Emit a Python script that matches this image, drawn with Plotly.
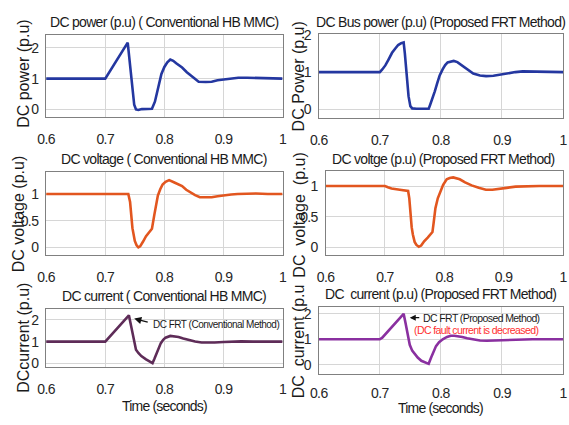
import plotly.graph_objects as go
from plotly.subplots import make_subplots

# ---- time grid labels -------------------------------------------------------
x_ticks = [0.6, 0.7, 0.8, 0.9, 1.0]
x_tick_labels = ["0.6", "0.7", "0.8", "0.9", "1"]

# ---- DC power, conventional HB MMC -----------------------------------------
t_pow_conv = [0.60, 0.70, 0.738, 0.741, 0.745, 0.749, 0.752, 0.756, 0.762, 0.770,
              0.779, 0.784, 0.790, 0.795, 0.800, 0.805, 0.810, 0.815, 0.820, 0.825,
              0.830, 0.838, 0.847, 0.858, 0.870, 0.880, 0.890, 0.900, 0.912, 0.925,
              0.940, 0.955, 0.970, 1.00]
p_pow_conv = [1.0, 1.0, 2.17, 1.6, 0.7, 0.15, 0.0, -0.02, 0.01, 0.02,
              0.02, 0.25, 0.8, 1.15, 1.38, 1.53, 1.62, 1.58, 1.5, 1.44,
              1.36, 1.21, 1.07, 0.9, 0.89, 0.9, 0.95, 0.97, 1.0, 1.03,
              1.03, 1.02, 1.01, 1.0]

# ---- DC bus power, proposed FRT method --------------------------------------
t_pow_prop = [0.60, 0.700, 0.704, 0.709, 0.714, 0.720, 0.725, 0.730, 0.735, 0.739,
              0.741, 0.744, 0.747, 0.750, 0.753, 0.760, 0.770, 0.780, 0.782, 0.786,
              0.790, 0.794, 0.798, 0.803, 0.807, 0.811, 0.816, 0.821, 0.827, 0.835,
              0.844, 0.853, 0.864, 0.874, 0.886, 0.896, 0.909, 0.922, 0.934, 0.950,
              0.970, 1.00]
p_pow_prop = [1.0, 1.0, 1.07, 1.18, 1.33, 1.52, 1.63, 1.73, 1.78, 1.80,
              1.5, 0.9, 0.35, 0.08, 0.02, 0.01, 0.01, 0.01, 0.1, 0.28,
              0.48, 0.7, 0.91, 1.08, 1.19, 1.26, 1.29, 1.30, 1.27, 1.17,
              1.05, 0.96, 0.91, 0.89, 0.90, 0.93, 0.97, 1.0, 1.02, 1.02,
              1.01, 1.0]

# ---- DC voltage, conventional HB MMC ---------------------------------------
t_vol_conv = [0.60, 0.739, 0.742, 0.746, 0.750, 0.753, 0.756, 0.759, 0.764, 0.769,
              0.774, 0.779, 0.783, 0.786, 0.789, 0.793, 0.797, 0.802, 0.808, 0.816,
              0.823, 0.830, 0.837, 0.844, 0.852, 0.860, 0.870, 0.880, 0.890, 0.902,
              0.913, 0.924, 0.940, 0.955, 0.975, 1.00]
v_vol_conv = [1.0, 1.0, 0.85, 0.36, 0.12, 0.04, 0.0, 0.02, 0.11, 0.21,
              0.28, 0.35, 0.61, 0.82, 0.97, 1.09, 1.18, 1.23, 1.26, 1.22,
              1.18, 1.15, 1.08, 1.03, 0.98, 0.94, 0.94, 0.94, 0.96, 0.98,
              0.99, 1.0, 1.01, 1.01, 1.0, 1.0]

# ---- DC voltage, proposed FRT method ---------------------------------------
t_vol_prop = [0.60, 0.700, 0.705, 0.711, 0.725, 0.739, 0.741, 0.743, 0.745, 0.747,
              0.750, 0.753, 0.757, 0.761, 0.766, 0.772, 0.777, 0.780, 0.782, 0.785,
              0.789, 0.793, 0.798, 0.804, 0.809, 0.815, 0.820, 0.826, 0.835, 0.846,
              0.858, 0.870, 0.881, 0.892, 0.905, 0.920, 0.940, 0.960, 1.00]
v_vol_prop = [1.0, 1.0, 0.98, 0.96, 0.94, 0.92, 0.8, 0.53, 0.33, 0.21,
              0.09, 0.04, 0.01, 0.03, 0.1, 0.16, 0.21, 0.25, 0.4, 0.64,
              0.8, 0.91, 1.02, 1.11, 1.13, 1.14, 1.13, 1.11, 1.06, 1.01,
              0.97, 0.94, 0.94, 0.95, 0.97, 0.99, 1.0, 1.0, 1.0]

# ---- DC current, conventional HB MMC ---------------------------------------
t_cur_conv = [0.60, 0.700, 0.740, 0.744, 0.747, 0.752, 0.756, 0.761, 0.769, 0.775,
              0.780, 0.783, 0.786, 0.790, 0.794, 0.798, 0.802, 0.810, 0.817, 0.824,
              0.832, 0.841, 0.852, 0.863, 0.875, 0.885, 0.900, 0.913, 0.930, 0.950,
              1.00]
i_cur_conv = [1.0, 1.0, 2.2, 1.65, 1.15, 0.63, 0.48, 0.34, 0.19, 0.1,
              0.02, 0.2, 0.41, 0.68, 0.93, 1.08, 1.18, 1.26, 1.24, 1.21,
              1.14, 1.07, 1.0, 0.96, 0.95, 0.96, 0.98, 1.0, 1.01, 1.0,
              1.0]

# ---- DC current, proposed FRT method ---------------------------------------
t_cur_prop = [0.60, 0.700, 0.704, 0.708, 0.716, 0.725, 0.732, 0.739, 0.742, 0.745,
              0.749, 0.753, 0.757, 0.762, 0.768, 0.774, 0.780, 0.784, 0.788, 0.792,
              0.797, 0.803, 0.810, 0.816, 0.822, 0.827, 0.835, 0.843, 0.853, 0.864,
              0.875, 0.885, 0.898, 0.912, 0.930, 0.950, 1.00]
i_cur_prop = [1.0, 1.0, 1.06, 1.17, 1.38, 1.62, 1.8, 2.0, 1.65, 1.29,
              0.78, 0.55, 0.41, 0.28, 0.15, 0.08, 0.03, 0.28, 0.5, 0.73,
              0.88, 1.0, 1.09, 1.14, 1.14, 1.13, 1.09, 1.04, 0.99, 0.95,
              0.94, 0.95, 0.96, 0.98, 1.0, 1.0, 1.0]

W, H = 569, 425
SANS = "Liberation Sans, Arial, sans-serif"

BLUE = "#2437a0"
ORANGE = "#e2561f"
PLUM = "#5e2c58"
PURPLE = "#8a30a0"


def tight(text, spacing):
    """Wrap text in a span with negative letter spacing (condensed look)."""
    return '<span style="letter-spacing:%spx">%s</span>' % (spacing, text)


# (series, colour, plot box in px: left, top, right, bottom, y range, y ticks,
#  y tick text, x tick-label standoff)
panels = [
    (t_pow_conv, p_pow_conv, BLUE, (38, 29, 280, 113), [-0.25, 2.41], [0, 1, 2], ["0", "1", "2"], 9),
    (t_pow_prop, p_pow_prop, BLUE, (317, 28, 567, 114), [-0.24, 2.02], [0, 1, 2], ["0", "1", "2"], 9),
    (t_vol_conv, v_vol_conv, ORANGE, (38, 169, 280, 255), [-0.15, 1.42], [0, 0.5, 1], ["0", "0.5", "1"], 9),
    (t_vol_prop, v_vol_prop, ORANGE, (324, 168, 567, 255), [-0.13, 1.25], [0, 0.5, 1], ["0", "0.5", "1"], 9),
    (t_cur_conv, i_cur_conv, PLUM, (38, 310, 280, 370), [-0.18, 2.49], [0, 1, 2], ["0", "1", "2"], 9),
    (t_cur_prop, i_cur_prop, PURPLE, (317, 308, 567, 377), [-0.38, 2.27], [0, 1, 2], ["0", "1", "2"], 6),
]

fig = make_subplots(rows=3, cols=2)

for k, (tx, vy, col, box, yr, yt, ytt, xstand) in enumerate(panels):
    r, c = k // 2 + 1, k % 2 + 1
    fig.add_trace(go.Scatter(x=tx, y=vy, mode="lines",
                             line=dict(color=col, width=2.6),
                             showlegend=False, hoverinfo="skip"), row=r, col=c)
    left, top, right, bottom = box
    fig.update_xaxes(domain=[left / W, right / W], range=[0.6, 1.0],
                     tickvals=x_ticks, ticktext=[tight(s, -0.6) for s in x_tick_labels],
                     showgrid=True, gridcolor="#d6d6d6", gridwidth=1,
                     zeroline=False, showline=True, mirror=True,
                     linecolor="#808080", linewidth=1, ticks="",
                     ticklabelstandoff=xstand,
                     tickfont=dict(family=SANS, size=14, color="#262626"),
                     row=r, col=c)
    fig.update_yaxes(domain=[1 - bottom / H, 1 - top / H], range=yr,
                     tickvals=yt, ticktext=[tight(s, -0.6) for s in ytt],
                     showgrid=True, gridcolor="#d6d6d6", gridwidth=1,
                     zeroline=False, showline=True, mirror=True,
                     linecolor="#808080", linewidth=1, ticks="",
                     ticklabelstandoff=4,
                     tickfont=dict(family=SANS, size=14, color="#262626"),
                     row=r, col=c)


def px_text(x, y, text, size, color="#1a1a1a", angle=0, xanchor="center", spacing=None):
    if spacing is not None:
        text = tight(text, spacing)
    fig.add_annotation(x=x / W, y=1 - y / H, xref="paper", yref="paper",
                       text=text, showarrow=False, textangle=angle,
                       xanchor=xanchor, yanchor="middle", borderpad=0,
                       font=dict(family=SANS, size=size, color=color))


# panel titles
px_text(159, 15, "DC power (p.u) ( Conventional HB MMC)", 14, spacing=-0.7)
px_text(442, 15, "DC Bus power (p.u) (Proposed FRT Method)", 14, spacing=-0.7)
px_text(159, 156, "DC voltage ( Conventional HB MMC)", 14, spacing=-0.7)
px_text(445, 156, "DC voltge (p.u) (Proposed FRT Method)", 14, spacing=-0.7)
px_text(159, 297, "DC current ( Conventional HB MMC)", 14, spacing=-0.7)
px_text(442, 295, "DC  current (p.u) (Proposed FRT Method)", 14, spacing=-0.7)

# y-axis titles
px_text(15, 69, "DC power (p.u)", 16, angle=-90)
px_text(296, 71, "DC Power (p.u)", 16, angle=-90)
px_text(10, 212, "DC voltage (p.u)", 16, angle=-90)
px_text(297, 214, "DC  voltage  (p.u)", 16, angle=-90)
px_text(15, 340, "DCcurrent (p.u)", 16, angle=-90)
px_text(296, 343, "DC  current (p.u", 16, angle=-90)

# x-axis titles
px_text(159, 410, "Time (seconds)", 14, spacing=-0.8)
px_text(442, 412, "Time (seconds)", 14, spacing=-0.8)

# fault-current call-outs
fig.add_annotation(x=0.749, y=2.05, xref="x5", yref="y5", ax=15, ay=4,
                   text="", showarrow=True, arrowhead=2, arrowsize=1.1,
                   arrowwidth=1.3, arrowcolor="#111111", standoff=0)
px_text(146, 326, "DC FRT (Conventional Method)", 10, xanchor="left", spacing=-0.5)

fig.add_annotation(x=0.749, y=1.85, xref="x6", yref="y6", ax=11, ay=0,
                   text="", showarrow=True, arrowhead=2, arrowsize=1.0,
                   arrowwidth=1.2, arrowcolor="#111111", standoff=0)
px_text(423, 319, "DC FRT (Proposed Method)", 10.5, xanchor="left", spacing=-0.6)
px_text(413, 332, "(DC fault current is decreased)", 10.5, color="#ff3030",
        xanchor="left", spacing=-0.6)

fig.update_layout(width=W, height=H, margin=dict(l=0, r=0, t=0, b=0),
                  paper_bgcolor="white", plot_bgcolor="white")

fig.write_html("out.html")
